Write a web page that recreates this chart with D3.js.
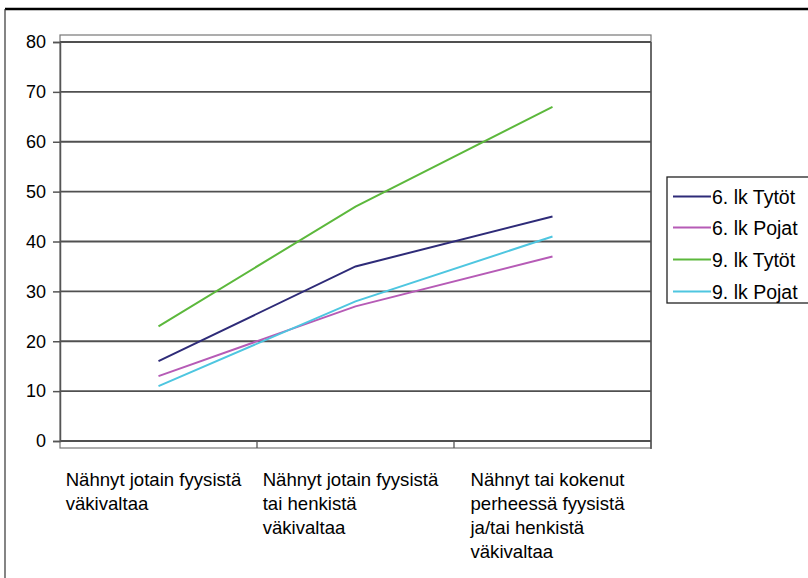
<!DOCTYPE html>
<html><head><meta charset="utf-8">
<script src="https://cdn.jsdelivr.net/npm/d3@7"></script>
<style>
html,body{margin:0;padding:0;background:#fff;}
svg{display:block;font-family:"Liberation Sans",Arial,sans-serif;}
</style></head>
<body>
<svg id="c" width="808" height="578"></svg>
<script>
const categories = [
  ["Nähnyt jotain fyysistä", "väkivaltaa"],
  ["Nähnyt jotain fyysistä", "tai henkistä", "väkivaltaa"],
  ["Nähnyt tai kokenut", "perheessä fyysistä", "ja/tai henkistä", "väkivaltaa"]
];
const seriesNames = ["6. lk Tytöt", "6. lk Pojat", "9. lk Tytöt", "9. lk Pojat"];
const tytot6 = [16, 35, 45];
const pojat6 = [13, 27, 37];
const tytot9 = [23, 47, 67];
const pojat9 = [11, 28, 41];
const yTicks = [0, 10, 20, 30, 40, 50, 60, 70, 80];
const colors = ["#2e2b78", "#b65bb6", "#5cb83c", "#4ec6e0"];
const seriesValues = [tytot6, pojat6, tytot9, pojat9];

const svg = d3.select("#c");
const L = 60, R = 651, T = 42, B = 441;
const catKeys = categories.map((c, i) => i);
const x = d3.scaleBand().domain(catKeys).range([L, R]);
const y = d3.scaleLinear().domain([0, 80]).range([B, T]);

// outer frame
svg.append("line").attr("x1", 5).attr("x2", 808).attr("y1", 9).attr("y2", 9)
  .attr("stroke", "#000").attr("stroke-width", 2.5);
svg.append("line").attr("x1", 5).attr("x2", 5).attr("y1", 9).attr("y2", 578)
  .attr("stroke", "#333").attr("stroke-width", 1.2);

// plot area border
svg.append("rect").attr("x", L).attr("y", 35).attr("width", R - L).attr("height", 448 - 35)
  .attr("fill", "none").attr("stroke", "#777").attr("stroke-width", 1.2);
svg.append("line").attr("x1", R).attr("x2", R).attr("y1", T).attr("y2", 449)
  .attr("stroke", "#555").attr("stroke-width", 1.5);

// gridlines
svg.append("g").selectAll("line").data(yTicks).join("line")
  .attr("x1", L).attr("x2", R).attr("y1", d => y(d)).attr("y2", d => y(d))
  .attr("stroke", "#505050").attr("stroke-width", 1.9);

// y axis
const yAxis = d3.axisLeft(y).tickValues(yTicks).tickSize(7).tickPadding(7);
const gy = svg.append("g").attr("transform", `translate(${L},0)`).call(yAxis);
gy.select(".domain").attr("stroke", "#555").attr("stroke-width", 1.5);
gy.selectAll(".tick line").attr("stroke", "#555").attr("stroke-width", 1.5);
gy.selectAll(".tick text").attr("font-size", 18).attr("fill", "#000")
  .attr("font-family", "Liberation Sans, Arial, sans-serif");

// x axis category boundary ticks
const bounds = catKeys.map(k => x(k)).concat([x(catKeys[catKeys.length - 1]) + x.bandwidth()]);
svg.append("g").selectAll("line").data(bounds.slice(1, -1)).join("line")
  .attr("x1", d => d).attr("x2", d => d).attr("y1", B).attr("y2", 448)
  .attr("stroke", "#555").attr("stroke-width", 1.3);

// category labels
const lg = svg.append("g");
categories.forEach((lines, i) => {
  const t = lg.append("text").attr("font-size", 18.6).attr("fill", "#000");
  lines.forEach((ln, j) => {
    t.append("tspan").attr("dy", j === 0 ? 0 : 24).text(ln);
  });
  let maxW = 0;
  t.selectAll("tspan").each(function () { maxW = Math.max(maxW, this.getComputedTextLength()); });
  const cx = x(i) + x.bandwidth() / 2;
  const left = cx - maxW / 2 - 5;
  t.attr("y", 486);
  t.selectAll("tspan").attr("x", left);
});

// lines
const line = d3.line().x((d, i) => x(i) + x.bandwidth() / 2).y(d => y(d));
seriesValues.forEach((vals, k) => {
  svg.append("path").datum(vals).attr("d", line)
    .attr("fill", "none").attr("stroke", colors[k]).attr("stroke-width", 2);
});

// legend
const leg = svg.append("g");
leg.append("rect").attr("x", 667).attr("y", 177).attr("width", 160).attr("height", 126)
  .attr("fill", "#fff").attr("stroke", "#222").attr("stroke-width", 1.3);
const rowY = [196.5, 227.5, 259.5, 291.5];
seriesNames.forEach((n, k) => {
  leg.append("line").attr("x1", 673).attr("x2", 711).attr("y1", rowY[k]).attr("y2", rowY[k])
    .attr("stroke", colors[k]).attr("stroke-width", 2);
  leg.append("text").attr("x", 712).attr("y", rowY[k]).attr("dy", "0.36em")
    .attr("font-size", 19.5).attr("fill", "#000").text(n);
});
</script>
</body></html>
